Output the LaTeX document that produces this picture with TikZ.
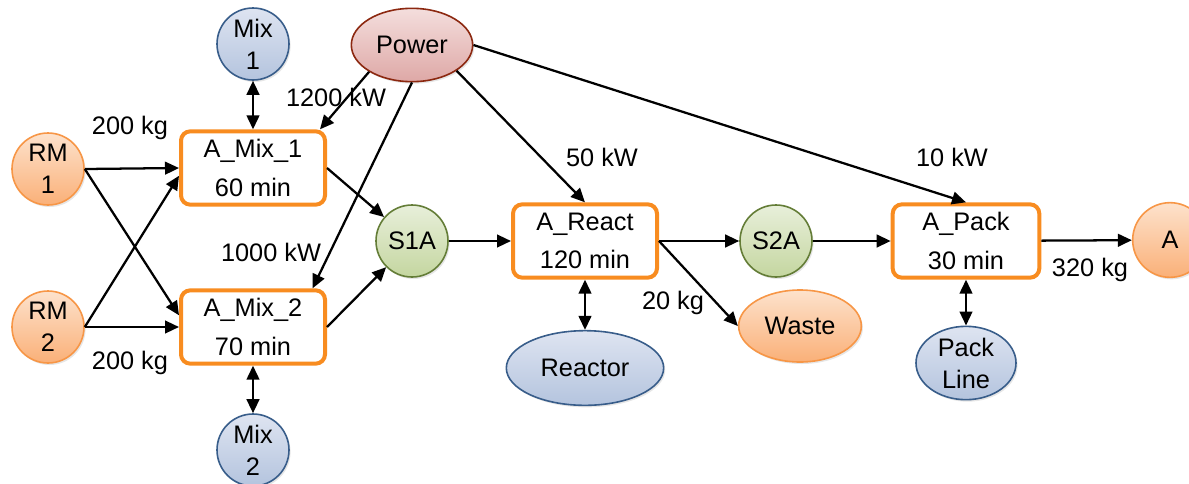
\documentclass[tikz,border=0pt]{standalone}
\usepackage{fontspec}
\setmainfont{Liberation Sans}
\usepackage{tikz}
\usetikzlibrary{arrows.meta, shapes.geometric, shadows}

\definecolor{taskorange}{RGB}{248,140,32}
\definecolor{matborder}{RGB}{247,150,70}
\definecolor{mattop}{RGB}{253,226,204}
\definecolor{matbottom}{RGB}{250,176,120}
\definecolor{unitborder}{RGB}{56,93,138}
\definecolor{unittop}{RGB}{222,228,241}
\definecolor{unitbottom}{RGB}{180,196,222}
\definecolor{powborder}{RGB}{140,40,16}
\definecolor{powtop}{RGB}{244,222,221}
\definecolor{powbottom}{RGB}{222,168,166}
\definecolor{stateborder}{RGB}{100,125,55}
\definecolor{statetop}{RGB}{232,239,218}
\definecolor{statebottom}{RGB}{196,214,160}

\begin{document}
\begin{tikzpicture}[x=0.75pt, y=-0.75pt, font=\fontsize{19}{24}\selectfont,
  flow/.style={-{Triangle[length=10.5pt, width=9.5pt]}, line width=1.7pt},
  link/.style={{Triangle[length=10.5pt, width=9.5pt]}-{Triangle[length=10.5pt, width=9.5pt]}, line width=1.7pt},
  task/.style={draw=taskorange, line width=3pt, rounded corners=7pt, fill=white,
    minimum width=108pt, minimum height=55pt, align=center, inner sep=0pt},
  soft/.style={line width=1.2pt, inner sep=0pt, align=center,
    drop shadow={opacity=0.2, shadow xshift=1.2pt, shadow yshift=-1.5pt}},
  material/.style={soft, draw=matborder, top color=mattop, bottom color=matbottom},
  unit/.style={soft, draw=unitborder, top color=unittop, bottom color=unitbottom},
  power/.style={soft, draw=powborder, top color=powtop, bottom color=powbottom},
  state/.style={soft, draw=stateborder, top color=statetop, bottom color=statebottom},
  disc/.style={circle, minimum size=54pt},
  oval/.style={ellipse}]

  \useasboundingbox (0,0) rectangle (1189,483);

  % resources and materials
  \node[material, disc] (RM1) at (48,169) {RM\\1};
  \node[material, disc] (RM2) at (48,327) {RM\\2};
  \node[unit, disc] (Mix1) at (253,44) {Mix\\1};
  \node[unit, disc] (Mix2) at (253,450) {Mix\\2};
  \node[power, oval, minimum width=91pt, minimum height=55pt] (Power) at (412,45) {Power};
  \node[state, disc] (S1A) at (412,241) {S1A};
  \node[state, disc] (S2A) at (776,241) {S2A};
  \node[unit, oval, minimum width=118pt, minimum height=56pt] (Reactor) at (585,368) {Reactor};
  \node[material, oval, minimum width=92pt, minimum height=54pt] (Waste) at (800,326) {Waste};
  \node[unit, oval, minimum width=75pt, minimum height=55pt] (PackLine) at (966,363) {Pack\\Line};
  \node[material, disc, minimum size=56pt] (A) at (1170,240) {A};

  % tasks
  \node[task] (AMix1) at (253,168) {A\_Mix\_1\\[5pt]60 min};
  \node[task] (AMix2) at (253,327) {A\_Mix\_2\\[5pt]70 min};
  \node[task] (AReact) at (585,241) {A\_React\\[5pt]120 min};
  \node[task, minimum width=110pt] (APack) at (966,241) {A\_Pack\\[5pt]30 min};

  % material flows
  \draw[flow] (RM1.east) -- (AMix1.west);
  \draw[flow] (RM1.east) -- (AMix2.171);
  \draw[flow] (RM2.east) -- (AMix2.west);
  \draw[flow] (RM2.east) -- (AMix1.186);
  \draw[flow] (AMix1.east) -- (S1A);
  \draw[flow] (AMix2.east) -- (S1A);
  \draw[flow] (S1A) -- (AReact);
  \draw[flow] (AReact.east) -- (S2A);
  \draw[flow] (AReact.east) -- (Waste.west);
  \draw[flow] (S2A) -- (APack);
  \draw[flow] (APack) -- (A);

  % power supply
  \draw[flow] (Power.212) -- (AMix1.30);
  \draw[flow] (Power.south) -- (AMix2.33);
  \draw[flow] (Power.330) -- (AReact.north);
  \draw[flow] (Power.east) -- (APack.north);

  % equipment
  \draw[link] (Mix1) -- (AMix1);
  \draw[link] (Mix2) -- (AMix2);
  \draw[link] (Reactor) -- (AReact);
  \draw[link] (PackLine) -- (APack);

  % amounts
  \node (lRM1) at (130,128) {200 kg};
  \node (lRM2) at (130,363) {200 kg};
  \node (lP1) at (336,97) {1200 kW};
  \node (lP2) at (271,252) {1000 kW};
  \node (lP3) at (602,157) {50 kW};
  \node (lP4) at (952,157) {10 kW};
  \node (lWaste) at (673,303) {20 kg};
  \node (lA) at (1090,270) {320 kg};
\end{tikzpicture}
\end{document}
